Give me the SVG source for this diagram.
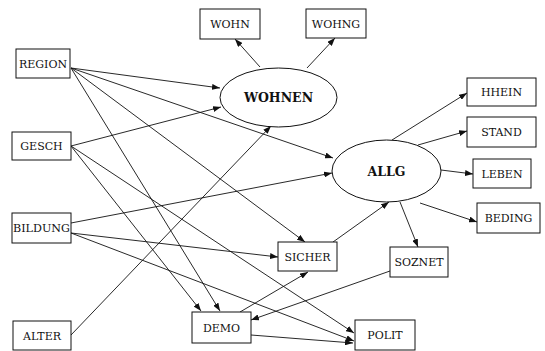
<svg xmlns="http://www.w3.org/2000/svg" width="545" height="351" viewBox="0 0 545 351">
<style>
.box{fill:#fff;stroke:#111;stroke-width:1}
.ell{fill:#fff;stroke:#111;stroke-width:1}
text{font-family:'DejaVu Serif',serif;fill:#111;text-anchor:middle}
.t{font-size:11px}
.tb{font-size:12.5px;font-weight:bold}
.e line{stroke:#111;stroke-width:0.9;marker-end:url(#ah)}
</style>
<defs>
<marker id="ah" markerUnits="userSpaceOnUse" markerWidth="8" markerHeight="6" refX="8" refY="3" orient="auto">
<path d="M0,0 L8,3 L0,6 z" fill="#111"/>
</marker>
</defs>
<rect width="545" height="351" fill="#fff"/>
<g id="connectors" class="e">
<line x1="260" y1="67" x2="235" y2="39"/>
<line x1="307" y1="68" x2="335" y2="38"/>
<line x1="71" y1="68" x2="220" y2="88"/>
<line x1="71" y1="68" x2="333" y2="158"/>
<line x1="71" y1="68" x2="305" y2="242"/>
<line x1="71" y1="68" x2="220" y2="311"/>
<line x1="71" y1="146" x2="221" y2="107"/>
<line x1="71" y1="146" x2="201" y2="311"/>
<line x1="71" y1="146" x2="354" y2="333"/>
<line x1="71" y1="223" x2="332" y2="173"/>
<line x1="71" y1="233" x2="278" y2="257"/>
<line x1="71" y1="233" x2="354" y2="341"/>
<line x1="71" y1="335" x2="271" y2="126"/>
<line x1="240" y1="312" x2="308" y2="272"/>
<line x1="251" y1="335" x2="353" y2="343"/>
<line x1="390" y1="271" x2="251" y2="320"/>
<line x1="333" y1="242" x2="389" y2="202"/>
<line x1="400" y1="202" x2="418" y2="247"/>
<line x1="420" y1="203" x2="477" y2="222"/>
<line x1="441" y1="170" x2="473" y2="174"/>
<line x1="418" y1="145" x2="467" y2="131"/>
<line x1="392" y1="140" x2="467" y2="93"/>
</g>
<g id="WOHN"><rect class="box" x="200" y="9" width="60" height="30"/><text class="t" x="230" y="28">WOHN</text></g>
<g id="WOHNG"><rect class="box" x="306" y="9" width="60" height="29"/><text class="t" x="336" y="27.5">WOHNG</text></g>
<g id="REGION"><rect class="box" x="16" y="49" width="54" height="29"/><text class="t" x="43" y="67.5">REGION</text></g>
<g id="GESCH"><rect class="box" x="12" y="132" width="59" height="28"/><text class="t" x="41.5" y="150">GESCH</text></g>
<g id="BILDUNG"><rect class="box" x="12" y="213" width="59" height="30"/><text class="t" x="41.5" y="232" textLength="57" lengthAdjust="spacingAndGlyphs">BILDUNG</text></g>
<g id="ALTER"><rect class="box" x="13" y="321" width="58" height="29"/><text class="t" x="42" y="339.5">ALTER</text></g>
<g id="DEMO"><rect class="box" x="192" y="312" width="59" height="31"/><text class="t" x="221.5" y="331.5">DEMO</text></g>
<g id="SICHER"><rect class="box" x="278" y="242" width="59" height="29"/><text class="t" x="307.5" y="260.5">SICHER</text></g>
<g id="SOZNET"><rect class="box" x="390" y="247" width="58" height="30"/><text class="t" x="419" y="266">SOZNET</text></g>
<g id="POLIT"><rect class="box" x="355" y="320" width="60" height="30"/><text class="t" x="385" y="339">POLIT</text></g>
<g id="HHEIN"><rect class="box" x="467" y="78" width="69" height="28"/><text class="t" x="501.5" y="96">HHEIN</text></g>
<g id="STAND"><rect class="box" x="467" y="117" width="69" height="30"/><text class="t" x="501.5" y="136">STAND</text></g>
<g id="LEBEN"><rect class="box" x="473" y="159" width="58" height="29"/><text class="t" x="502" y="177.5">LEBEN</text></g>
<g id="BEDING"><rect class="box" x="477" y="203" width="63" height="30"/><text class="t" x="508.5" y="222">BEDING</text></g>
<g id="WOHNEN"><ellipse class="ell" cx="278.5" cy="97.5" rx="58.5" ry="29.5"/><text class="tb" x="278.5" y="102">WOHNEN</text></g>
<g id="ALLG"><ellipse class="ell" cx="386.5" cy="171" rx="54.5" ry="31"/><text class="tb" x="386.5" y="175.5">ALLG</text></g>
</svg>
